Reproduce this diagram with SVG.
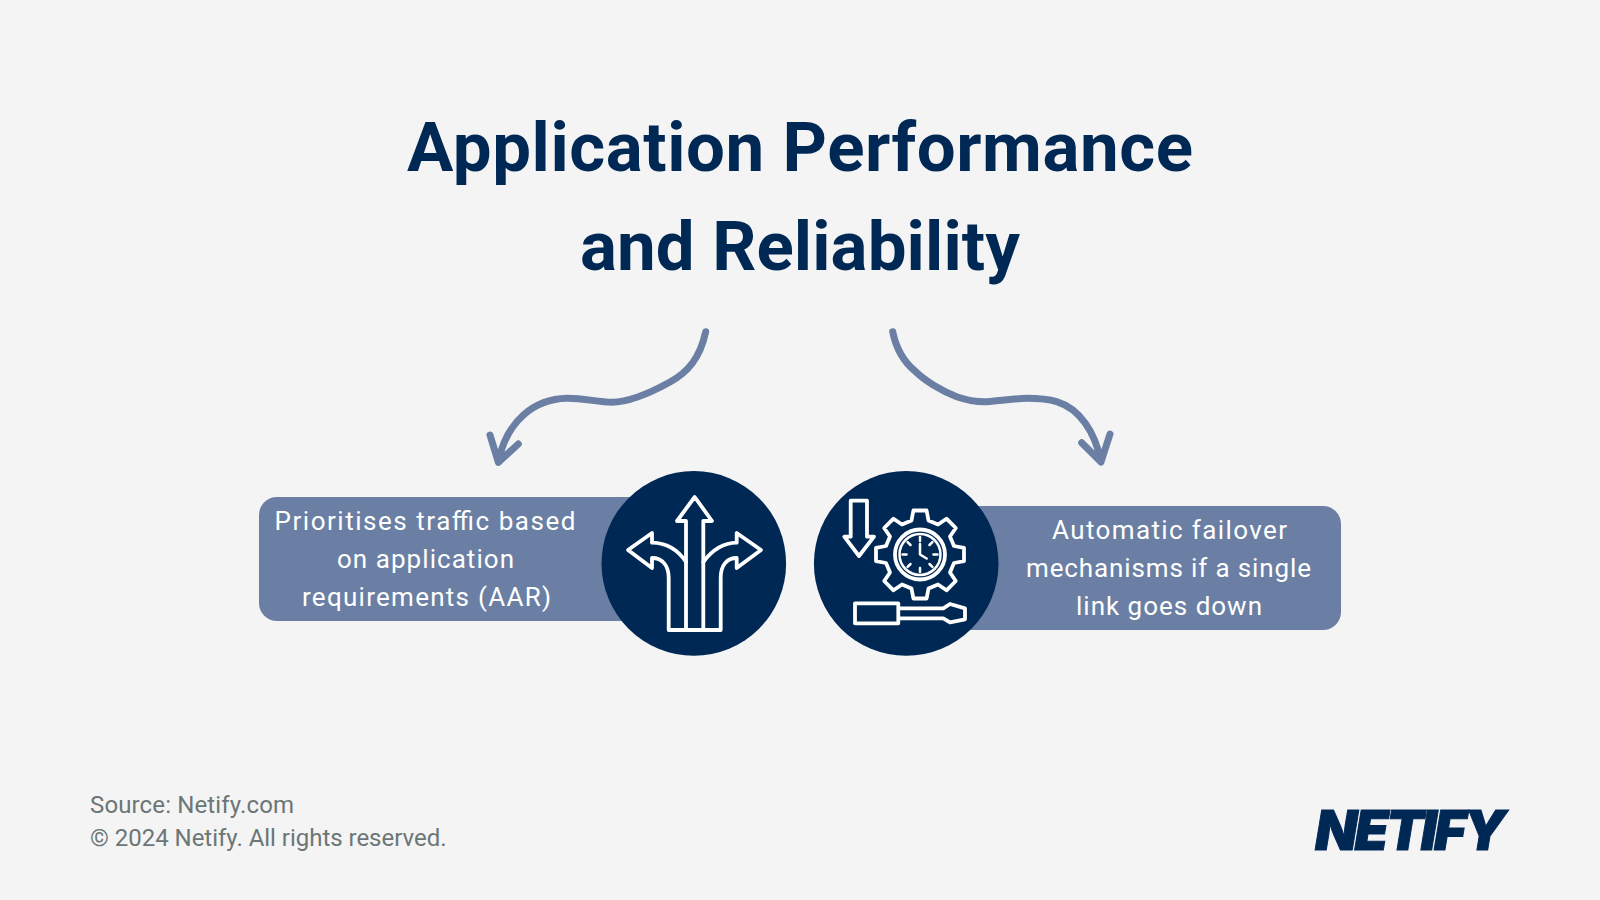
<svg xmlns="http://www.w3.org/2000/svg" width="1600" height="900" viewBox="0 0 1600 900">
<style>
.t{font-family:"Roboto","Liberation Sans",sans-serif;font-weight:700;font-size:69px;fill:#002855;text-anchor:middle}
.b{font-family:"Roboto","Liberation Sans",sans-serif;font-size:26px;fill:#fff;text-anchor:middle}
.f{font-family:"Roboto","Liberation Sans",sans-serif;font-size:24px;fill:#6b7676}
.c{fill:none;stroke:#6a7fa3;stroke-width:7;stroke-linecap:round;stroke-linejoin:round}
.i{fill:none;stroke:#fff;stroke-width:3.800;stroke-linejoin:round;stroke-linecap:round}
.n{stroke-width:2.500}
</style>
<rect width="1600" height="900" fill="#f4f4f4"/>
<g id="title"><text class="t" x="800" y="171" textLength="786">Application Performance</text><text class="t" x="800" y="270" textLength="440">and Reliability</text></g>
<g id="connectors">
<path class="c" d="M705.700 331.700C700 358 688 372 670 382C652 392 630 402 611.700 402.300C598 402 582 398 566.700 398.300C535 399 507 420 498.300 461.700M490 435L498.300 462.300L518.300 444"/>
<path class="c" d="M892.700 331.700C896 348 903 361 915 371C925 381 942 391 956.700 396.700C968 400.500 978 402 986.700 401.700C1000 401 1014 398.500 1026.700 398.300C1040 398.300 1048 399 1056.700 401.700C1080 409 1095 432 1101 461.700M1081.700 442.700L1101 462L1110 434"/>
</g>
<g id="node-left">
<rect x="259" y="497" width="400" height="124" rx="18" fill="#6a7fa3"/>
<circle cx="693.800" cy="563.400" r="92.300" fill="#002855"/>
<text class="b" x="425" y="530" textLength="301">Prioritises traffic based</text><text class="b" x="425.500" y="568" textLength="177">on application</text><text class="b" x="426.500" y="606" textLength="249">requirements (AAR)</text>
<path class="i" d="M686 630V521H677L694.700 497L712 521H703.300V630"/>
<path class="i" d="M686 562C680 553 670 543 652 542.700V533L628 550L652 568V558C662 558 668.700 565 668.700 578V630H720.700V578C720.700 565 727 558 736.700 558V568L761 550L736.700 533V542.700C720 543 710 553 703.300 562"/>
</g>
<g id="node-right">
<rect x="940" y="506" width="401" height="124" rx="18" fill="#6a7fa3"/>
<circle cx="906.200" cy="563.400" r="92.300" fill="#002855"/>
<text class="b" x="1169.500" y="539" textLength="235">Automatic failover</text><text class="b" x="1168.500" y="577" textLength="285">mechanisms if a single</text><text class="b" x="1169" y="615" textLength="186">link goes down</text>
<path class="i" d="M850.700 500.700H867V536.700H874L859 556L844.300 536.700H850.700Z"/>
<path class="i" d="M911.500 520.500L913.400 510.500H926.600L928.500 520.500L938 524.500L946.500 518.700L955.800 528L950 536.500L954 546L964 547.900V561.100L954 563L950 572.500L955.800 581L946.500 590.300L938 584.500L928.500 588.500L926.600 598.500H913.400L911.500 588.500L902 584.500L893.500 590.300L884.200 581L890 572.500L886 563L876 561.100V547.900L886 546L890 536.500L884.200 528L893.500 518.700L902 524.500Z"/>
<circle class="i" cx="920" cy="554.500" r="25"/><circle class="i n" cx="920" cy="554.500" r="20.500"/>
<path class="i n" d="M920 537V541M920 568V572M902.500 554.500H906.500M933.500 554.500H937.500M907.600 542.100L910.500 545M929.500 564L932.400 566.900M932.400 542.100L929.500 545M910.500 564L907.600 566.900"/>
<path class="i n" d="M920 544V554.500L926.700 558.500"/>
<path class="i" d="M855 603.300H898.300V623.300H855ZM898.300 608.300H943.300L950 604L965 608.300V619.300L950 622.300L943.300 618.300H898.300"/>
</g>
<g id="footer"><text class="f" x="90" y="813" textLength="204">Source: Netify.com</text><text class="f" x="90" y="846" textLength="356.500">© 2024 Netify. All rights reserved.</text></g>
<g id="logo"><text x="1315" y="850" textLength="191" font-family="Inter, Liberation Sans, sans-serif" font-weight="900" font-style="italic" font-size="55" fill="#002855" stroke="#002855" stroke-width="1">NETIFY</text></g>
</svg>
